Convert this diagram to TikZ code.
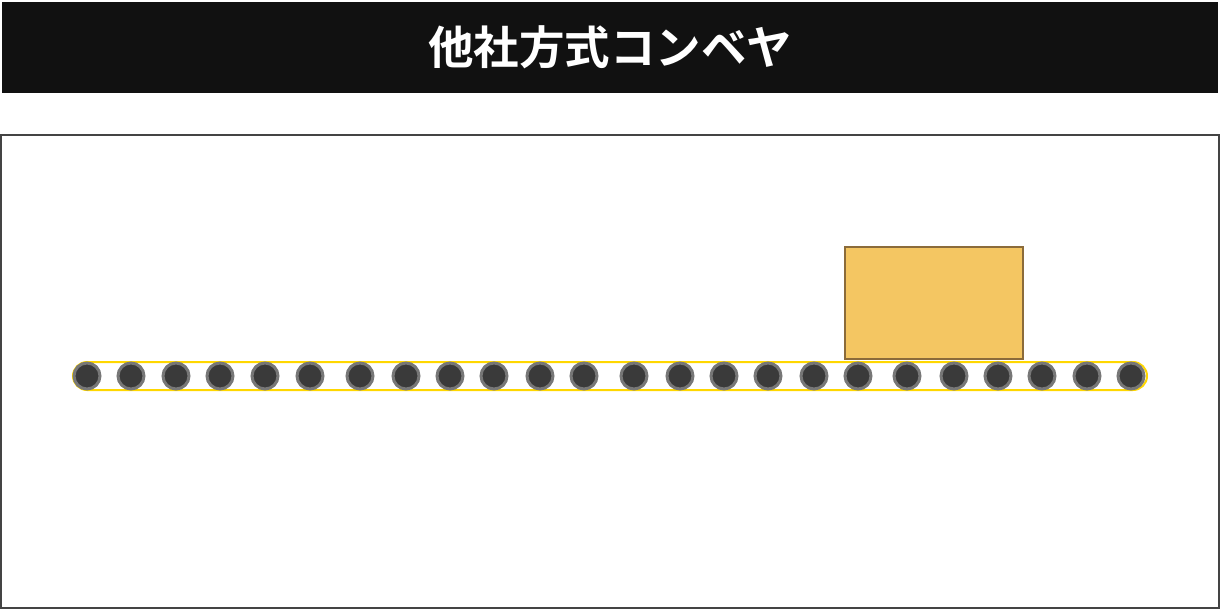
\documentclass[tikz,border=0pt]{standalone}
\usepackage{fontspec}
\newfontfamily\jpfont{Noto Sans CJK JP}[BoldFont={* Bold}]
\definecolor{headbg}{HTML}{111111}
\definecolor{framegray}{HTML}{444444}
\definecolor{beltyellow}{HTML}{FFD700}
\definecolor{rollerfill}{HTML}{3A3A3A}
\definecolor{rollerrim}{HTML}{777777}
\definecolor{loadfill}{HTML}{F4C662}
\definecolor{loadedge}{HTML}{8B6B3A}

\begin{document}
\begin{tikzpicture}[x=1pt,y=-1pt,
   roller/.style={circle,fill=rollerfill,draw=rollerrim,line width=3pt,minimum size=26pt,inner sep=0pt},
   belt/.style={draw=beltyellow,line width=2pt,rounded corners=14pt},
   load/.style={rectangle,fill=loadfill,draw=loadedge,line width=2pt,minimum width=178pt,minimum height=112pt,inner sep=0pt}]
   \useasboundingbox (0,0) rectangle (1220,610);
   \node[fill=headbg,minimum width=1216pt,minimum height=91pt,inner sep=0pt] (title) at (610,47.5)
      {\jpfont\bfseries\fontsize{45.5pt}{48pt}\selectfont\color{white}他社方式コンベヤ};
   \draw[draw=framegray,line width=2pt] (1,135) rectangle (1219,608);
   \draw[belt] (73,362) rectangle (1147,390);
   \foreach \x [count=\i] in {87,131,176,220,265,310,360,406,450,494,540,584,634,680,724,768,814,858,907,954,998,1042,1087,1131}
      \node[roller] (r\i) at (\x,376) {};
   \node[load] (box) at (934,303) {};
\end{tikzpicture}
\end{document}
